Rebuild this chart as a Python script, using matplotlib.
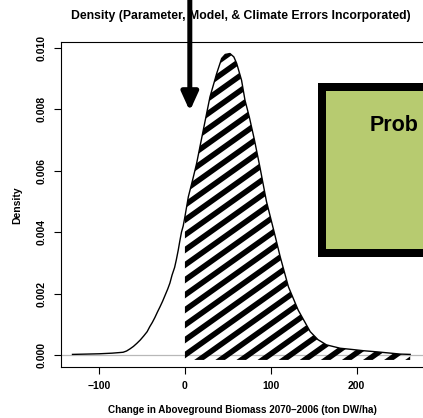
import numpy as np
import matplotlib
matplotlib.use("Agg")
import matplotlib.pyplot as plt
from matplotlib.patches import Rectangle
from matplotlib.collections import LineCollection

# ---- data ----
x_vals = [-131, -115, -100, -85, -76, -72, -68, -64, -60, -56, -52, -48, -44, -41, -38,
          -35, -32, -29, -26, -23, -20, -17.5, -15, -12, -10, -7.8, -6, -4, -2, 0,
          4, 9, 13.6, 21.4, 29.2, 37, 42.8, 47, 52.5, 57, 60.3, 66, 70,
          75, 81, 87.5, 95, 104, 111, 120.6, 132, 146, 155, 165, 181, 195, 208, 225,
          240, 251, 262.5]
density = [0.00002, 0.00003, 0.00004, 0.00006, 0.00008, 0.00009, 0.00013, 0.0002,
           0.00028, 0.00038, 0.00049, 0.00062, 0.00076, 0.00092, 0.00106,
           0.00122, 0.0014, 0.00157, 0.00175, 0.00195, 0.00215, 0.00234, 0.0026,
           0.00285, 0.0031, 0.00341, 0.0037, 0.0040, 0.0042,
           0.0045, 0.00515, 0.0057, 0.00623, 0.00732, 0.0084, 0.00916, 0.00965,
           0.00978, 0.00981, 0.0097, 0.00949, 0.00894, 0.00829, 0.00775, 0.0070,
           0.0061, 0.0050, 0.0040, 0.0032, 0.00222, 0.00146, 0.00076, 0.0005,
           0.00033, 0.00022, 0.00018, 0.00014, 0.0001, 0.00006, 0.00003, 0.00002]
x_ticks = [-100, 0, 100, 200]
y_ticks = [0.000, 0.002, 0.004, 0.006, 0.008, 0.010]
y_tick_labels = ["0.000", "0.002", "0.004", "0.006", "0.008", "0.010"]
title = "Density (Parameter, Model, & Climate Errors Incorporated)"
x_label = "Change in Aboveground Biomass 2070\u20132006 (ton DW/ha)"
y_label = "Density"
arrow_x, arrow_tip_y = 5.7, 0.00794
box_text = "Prob"

plt.rcParams['font.family'] = ['Liberation Sans', 'DejaVu Sans']

W, H, DPI = 423, 418, 100
fig = plt.figure(figsize=(W / DPI, H / DPI), dpi=DPI)
ax_l, ax_r, ax_t, ax_b = 61, 424, 42, 367
ax = fig.add_axes([ax_l / W, 1 - ax_b / H, (ax_r - ax_l) / W, (ax_b - ax_t) / H])

xv = np.array(x_vals)
dv = np.array(density)

ax.set_xlim(-144.4, 278.6)
ax.set_ylim(-0.00039, 0.010185)

# zero line
ax.axhline(0, color='#b8b8b8', lw=0.9, zorder=1)

# hatched region (x >= 0)
mask = xv >= 0
poly = ax.fill_between(xv[mask], -0.00016, dv[mask], facecolor='none',
                       edgecolor='none', zorder=2)
clip_path = poly.get_paths()[0]

axw_px = ax_r - ax_l
axh_px = ax_b - ax_t
fx0 = (0 - ax.get_xlim()[0]) / (ax.get_xlim()[1] - ax.get_xlim()[0])
fy0 = (0 - ax.get_ylim()[0]) / (ax.get_ylim()[1] - ax.get_ylim()[0])
X0 = fx0 * axw_px
Y0 = fy0 * axh_px
period_v = 15.0
slope = 0.711
segs = []
for k in range(-40, 40):
    xa, xb = -50.0, axw_px + 50.0
    ya = Y0 + k * period_v + slope * (xa - X0)
    yb = Y0 + k * period_v + slope * (xb - X0)
    segs.append([(xa / axw_px, ya / axh_px), (xb / axw_px, yb / axh_px)])
lc = LineCollection(segs, colors='black', linewidths=4.0, transform=ax.transAxes,
                    zorder=3, capstyle='butt')
ax.add_collection(lc)
lc.set_clip_path(clip_path, ax.transData)

# density curve
ax.plot(xv, dv, color='black', lw=1.0, zorder=4)

# axes styling
for s in ['left', 'bottom', 'top', 'right']:
    ax.spines[s].set_linewidth(0.8)
ax.set_xticks(x_ticks)
ax.set_xticklabels([str(t).replace('-', '\u2212') for t in x_ticks],
                   fontsize=7.5, fontweight='bold')
ax.set_yticks(y_ticks)
ax.set_yticklabels(y_tick_labels, rotation=90, va='center', fontsize=7.5,
                   fontweight='bold')
ax.tick_params(axis='both', direction='out', length=5, width=0.8)
ax.tick_params(axis='x', pad=5)
ax.tick_params(axis='y', pad=5)

ax.set_xlabel(x_label, fontsize=7.1, fontweight='bold')
ax.xaxis.set_label_coords(0.5, (ax_b - 410) / axh_px)
ax.xaxis.label.set_va('center')
ax.set_ylabel(y_label, fontsize=7.5, fontweight='bold')
ax.yaxis.set_label_coords((17 - ax_l) / axw_px, (ax_b - 205) / axh_px)
ax.yaxis.label.set_va('center')

fig.text(241 / W, 1 - 16 / H, title, ha='center', va='center', fontsize=8.8,
         fontweight='bold')

# arrow from top of the figure to the curve area
ax.annotate('', xy=(arrow_x, arrow_tip_y), xycoords='data',
            xytext=(arrow_x, 1.0), textcoords=('data', 'figure fraction'),
            arrowprops=dict(arrowstyle='-|>,head_length=0.55,head_width=0.25',
                            lw=3.6, color='black', shrinkA=0, shrinkB=0,
                            mutation_scale=20),
            annotation_clip=False, zorder=6)

# green overlay box
bw = 8
rect = Rectangle(((318 + bw / 2) / W, 1 - (257.3 - bw / 2) / H),
                 (460 - 318) / W, (257.3 - 83.3 - bw) / H,
                 transform=fig.transFigure, facecolor='#b7cb70', edgecolor='black',
                 linewidth=bw * 72 / DPI, zorder=10)
fig.add_artist(rect)
fig.text(370 / W, 1 - 130.7 / H, box_text, ha='left', va='baseline',
         fontsize=15.5, fontweight='bold', zorder=11)

fig.savefig('out.png', dpi=DPI)
